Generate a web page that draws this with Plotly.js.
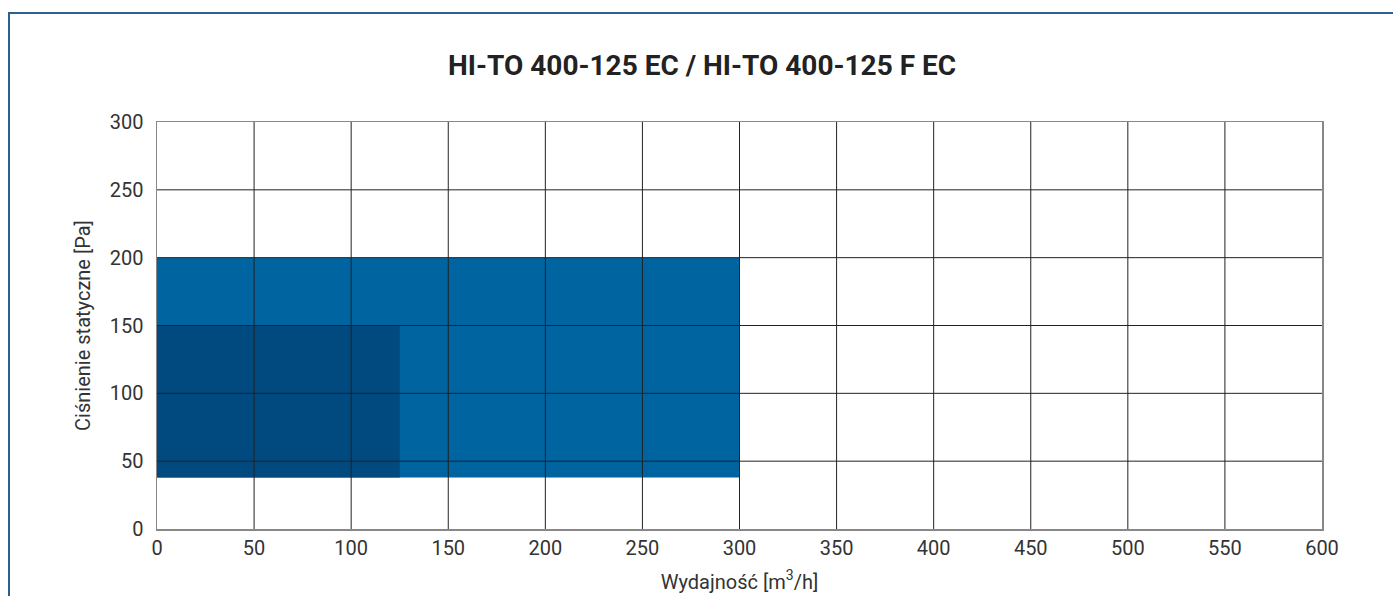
<!DOCTYPE html>
<html>
<head>
<meta charset="utf-8">
<script src="https://cdn.plot.ly/plotly-3.0.1.min.js"></script>
<style>
  html, body { margin: 0; padding: 0; background: #fff; overflow: hidden; }
  #frame { position: absolute; left: 8px; top: 12px; width: 1420px; height: 700px;
           border: 2px solid #2c5f92; box-sizing: border-box; }
  #chart { position: absolute; left: 0; top: 0; width: 1393px; height: 596px; }
</style>
</head>
<body>
<div id="frame"></div>
<div id="chart"></div>
<script>
// Working ranges (regions) of the two fan variants
const regionNames = ["HI-TO 400-125 F EC", "HI-TO 400-125 EC"];
const flowMin = [0, 0];          // m3/h
const flowMax = [300, 125];      // m3/h
const pressureMin = [38, 38];    // Pa
const pressureMax = [200, 150];  // Pa
const regionColors = ["#0064a0", "#004a80"];

const xTicks = [0, 50, 100, 150, 200, 250, 300, 350, 400, 450, 500, 550, 600];
const yTicks = [0, 50, 100, 150, 200, 250, 300];

const traces = regionNames.map((name, i) => ({
  type: "scatter",
  mode: "lines",
  name: name,
  x: [flowMin[i], flowMax[i], flowMax[i], flowMin[i], flowMin[i]],
  y: [pressureMin[i], pressureMin[i], pressureMax[i], pressureMax[i], pressureMin[i]],
  fill: "toself",
  fillcolor: regionColors[i],
  line: { width: 0, color: regionColors[i] },
  hoverinfo: "skip",
  showlegend: false
}));

// gridlines drawn above the filled regions
const shapes = [];
xTicks.slice(1, -1).forEach(v => shapes.push({
  type: "line", layer: "above", xref: "x", yref: "paper",
  x0: v, x1: v, y0: 0, y1: 1, line: { color: "#222", width: 1 }
}));
yTicks.slice(1, -1).forEach(v => shapes.push({
  type: "line", layer: "above", xref: "paper", yref: "y",
  x0: 0, x1: 1, y0: v, y1: v, line: { color: "#222", width: 1 }
}));

const tickFont = { family: "Roboto, sans-serif", size: 20, color: "#333" };
const layout = {
  width: 1393, height: 596,
  paper_bgcolor: "rgba(0,0,0,0)",
  plot_bgcolor: "#fff",
  margin: { l: 157, r: 71, t: 122, b: 67 },
  title: {
    text: "<b>HI-TO 400-125 EC / HI-TO 400-125 F EC</b>",
    font: { family: "Roboto, sans-serif", size: 28, color: "#222" },
    x: 0.504, xanchor: "center", y: 0.89, yanchor: "middle"
  },
  xaxis: {
    range: [0, 600], tickvals: xTicks, ticktext: xTicks.map(String),
    showgrid: false, zeroline: false,
    showline: true, mirror: true, linecolor: "#888", linewidth: 1.5,
    ticks: "", tickfont: tickFont, fixedrange: true,
    title: { text: "Wydajność [m<sup>3</sup>/h]", font: { family: "Roboto, sans-serif", size: 20, color: "#333" }, standoff: 16 }
  },
  yaxis: {
    range: [0, 300], tickvals: yTicks, ticktext: yTicks.map(String),
    showgrid: false, zeroline: false,
    showline: true, mirror: true, linecolor: "#888", linewidth: 1.5,
    ticks: "", tickfont: tickFont, fixedrange: true, ticklabelstandoff: 8,
    title: { text: "Ciśnienie statyczne [Pa]", font: { family: "Roboto, sans-serif", size: 20, color: "#333" }, standoff: 14 }
  },
  shapes: shapes,
  showlegend: false
};

Plotly.newPlot("chart", traces, layout, { displayModeBar: false, staticPlot: true });
</script>
</body>
</html>
